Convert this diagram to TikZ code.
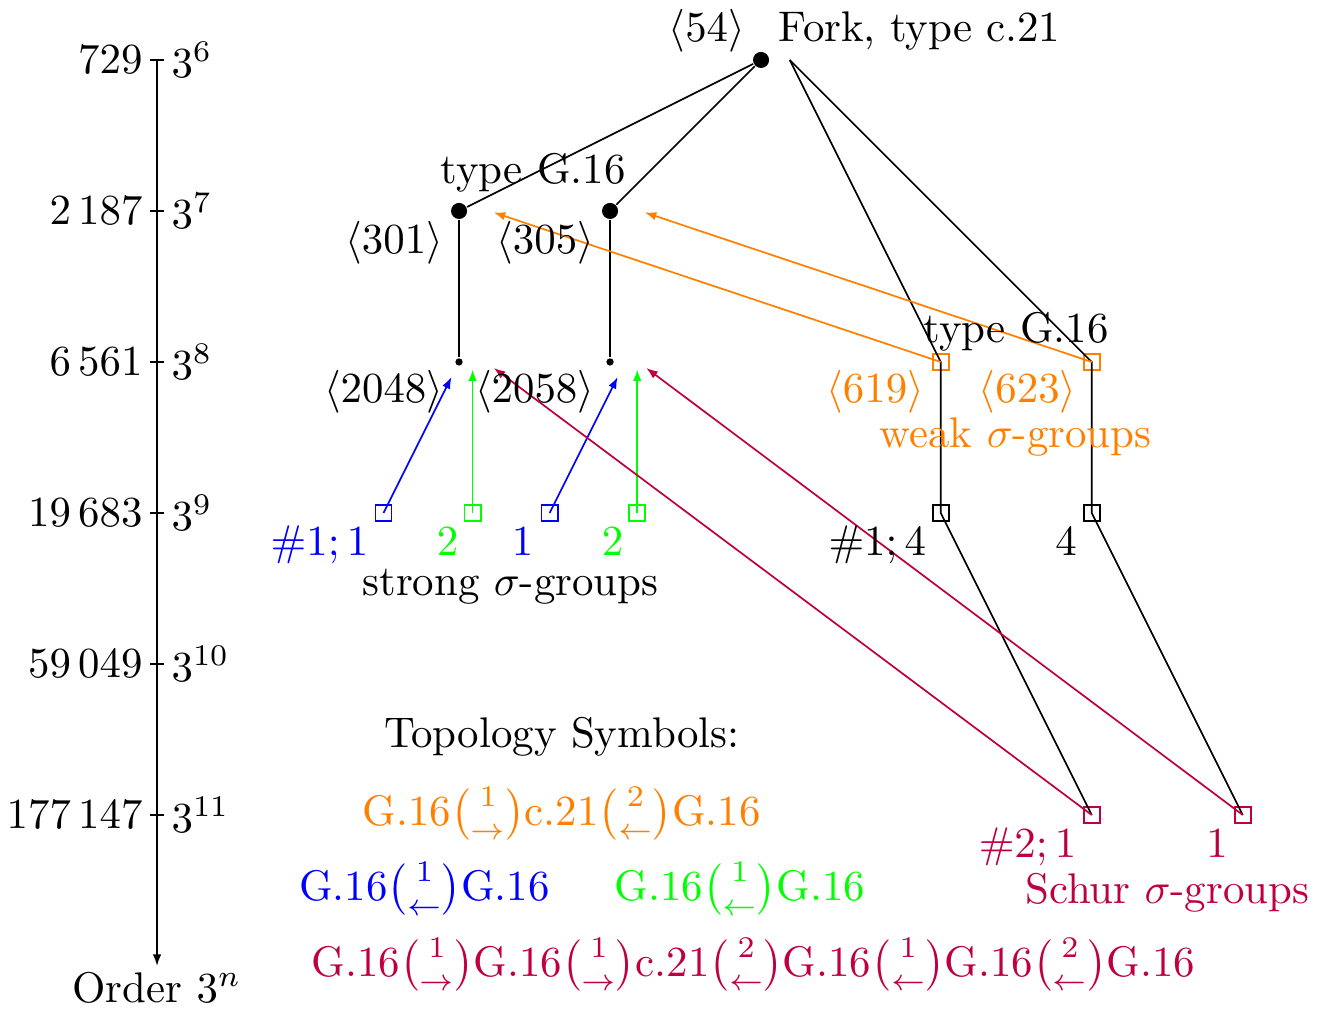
\documentclass[tikz,border=0pt]{standalone}
\usepackage{amsmath,amssymb}
\usepackage{xcolor}
\usepackage{tikz}
\usetikzlibrary{arrows.meta,positioning,calc}
\definecolor{cWeak}{rgb}{1,0.5,0}
\definecolor{cBlue}{rgb}{0,0,1}
\definecolor{cGreen}{rgb}{0,1,0}
\definecolor{cSchur}{rgb}{0.75,0,0.25}
\tikzset{
  vtx/.style={circle,fill=black,inner sep=0pt,minimum size=3.75pt},
  leaf/.style={circle,fill=black,inner sep=0pt,minimum size=1.7pt},
  sq/.style={draw=#1,rectangle,inner sep=0pt,minimum size=3.75pt},
  sq/.default=black,
  arr/.style={-{Latex[length=2.7pt,width=2pt]},draw=#1},
  arr/.default=black,
  axtick/.style={line width=0.4pt},
  lbl/.style={text=#1,inner sep=3.2pt},
  lbl/.default=black,
  symline/.style={lbl=#1,inner sep=1pt},
}
\newcommand{\edgeR}[1]{\ensuremath{\binom{#1}{\rightarrow}}}
\newcommand{\edgeL}[1]{\ensuremath{\binom{#1}{\leftarrow}}}

\begin{document}
\begin{tikzpicture}[x=1.238cm,y=1.238cm]
    \useasboundingbox (-1.04,0.397) rectangle (7.695,-6.298);
    % order axis
    \coordinate (axtop) at (0,0);
    \coordinate (axbot) at (0,-6);
    \draw[arr] (axtop) -- (axbot);
    \node[lbl,anchor=north,inner sep=1.2pt] (order) at (axbot) {Order $3^n$};
    \foreach \n/\v [count=\i from 0] in {6/729,7/2\,187,8/6\,561,9/19\,683,10/59\,049,11/177\,147}{
      \draw[axtick] (-0.046,-\i) -- (0.046,-\i);
      \node[lbl,anchor=east] (ord\n) at (0,-\i) {$\v$};
      \node[lbl,anchor=west] (pow\n) at (0,-\i) {$3^{\n}$};
    }
    % tree
    \node[vtx] (g54) at (4,0) {};
    \coordinate (fork) at (4.19,0);
    \node[vtx] (g301) at (2,-1) {};
    \node[vtx] (g305) at (3,-1) {};
    \node[leaf] (g2048) at (2,-2) {};
    \node[leaf] (g2058) at (3,-2) {};
    \node[sq=cWeak] (g619) at (5.19,-2) {};
    \node[sq=cWeak] (g623) at (6.19,-2) {};
    \node[sq=cBlue]  (s1) at (1.5,-3) {};
    \node[sq=cGreen] (s2) at (2.09,-3) {};
    \node[sq=cBlue]  (s3) at (2.6,-3) {};
    \node[sq=cGreen] (s4) at (3.18,-3) {};
    \node[sq] (t1) at (5.19,-3) {};
    \node[sq] (t2) at (6.19,-3) {};
    \node[sq=cSchur] (u1) at (6.19,-5) {};
    \node[sq=cSchur] (u2) at (7.19,-5) {};
    \draw (g54) -- (g301);
    \draw (g54) -- (g305);
    \draw (g301) -- (g2048);
    \draw (g305) -- (g2058);
    \draw (fork) -- (g619.center) -- (t1.center) -- (u1.center);
    \draw (fork) -- (g623.center) -- (t2.center) -- (u2.center);
    % arrow targets
    \coordinate (a1) at (1.95,-2.1);
    \coordinate (a2) at (3.05,-2.1);
    \coordinate (b1) at (2.09,-2.05);
    \coordinate (b2) at (3.18,-2.05);
    \coordinate (c1) at (2.23,-2.04);
    \coordinate (c2) at (3.24,-2.04);
    \coordinate (w1) at (2.23,-1.01);
    \coordinate (w2) at (3.23,-1.01);
    \draw[arr=cBlue]  (s1.center) -- (a1);
    \draw[arr=cBlue]  (s3.center) -- (a2);
    \draw[arr=cGreen] (s2.center) -- (b1);
    \draw[arr=cGreen] (s4.center) -- (b2);
    \draw[arr=cWeak]  (g619.center) -- (w1);
    \draw[arr=cWeak]  (g623.center) -- (w2);
    \draw[arr=cSchur] (u1.center) -- (c1);
    \draw[arr=cSchur] (u2.center) -- (c2);
    % labels
    \node[lbl] (l54) at (3.64,0.19) {$\langle 54\rangle$};
    \node[lbl,anchor=west] (lfork) at (4.02,0.19) {Fork, type c.21};
    \node[lbl] (ltypeA) at (2.49,-0.75) {type G.16};
    \node[lbl] (l301) at (1.57,-1.21) {$\langle 301\rangle$};
    \node[lbl] (l305) at (2.57,-1.21) {$\langle 305\rangle$};
    \node[lbl] (l2048) at (1.5,-2.2) {$\langle 2048\rangle$};
    \node[lbl] (l2058) at (2.5,-2.2) {$\langle 2058\rangle$};
    \node[lbl] (ltypeB) at (5.69,-1.8) {type G.16};
    \node[lbl=cWeak] (l619) at (4.755,-2.2) {$\langle 619\rangle$};
    \node[lbl=cWeak] (l623) at (5.765,-2.2) {$\langle 623\rangle$};
    \node[lbl=cWeak] (lweak) at (5.685,-2.495) {weak $\sigma$-groups};
    \node[lbl=cBlue]  (ls1) at (1.076,-3.21) {$\#1;1$};
    \node[lbl=cGreen] (ls2) at (1.924,-3.19) {$2$};
    \node[lbl=cBlue]  (ls3) at (2.42,-3.19) {$1$};
    \node[lbl=cGreen] (ls4) at (3.016,-3.19) {$2$};
    \node[lbl] (lstrong) at (2.34,-3.488) {strong $\sigma$-groups};
    \node[lbl] (lt1) at (4.77,-3.21) {$\#1;4$};
    \node[lbl] (lt2) at (6.02,-3.19) {$4$};
    \node[lbl=cSchur] (lu1) at (5.765,-5.21) {$\#2;1$};
    \node[lbl=cSchur] (lu2) at (7.02,-5.19) {$1$};
    \node[lbl=cSchur] (lschur) at (6.69,-5.515) {Schur $\sigma$-groups};
    % topology symbols
    \node[lbl] (topo) at (2.68,-4.48) {Topology Symbols:};
    \node[symline=cWeak]  (tsw) at (2.68,-4.99) {G.16\edgeR{1}c.21\edgeL{2}G.16};
    \node[symline=cBlue]  (tsa) at (1.77,-5.49) {G.16\edgeL{1}G.16};
    \node[symline=cGreen] (tsb) at (3.86,-5.49) {G.16\edgeL{1}G.16};
    \node[symline=cSchur] (tss) at (3.95,-5.99) {G.16\edgeR{1}G.16\edgeR{1}c.21\edgeL{2}G.16\edgeL{1}G.16\edgeL{2}G.16};
\end{tikzpicture}
\end{document}
